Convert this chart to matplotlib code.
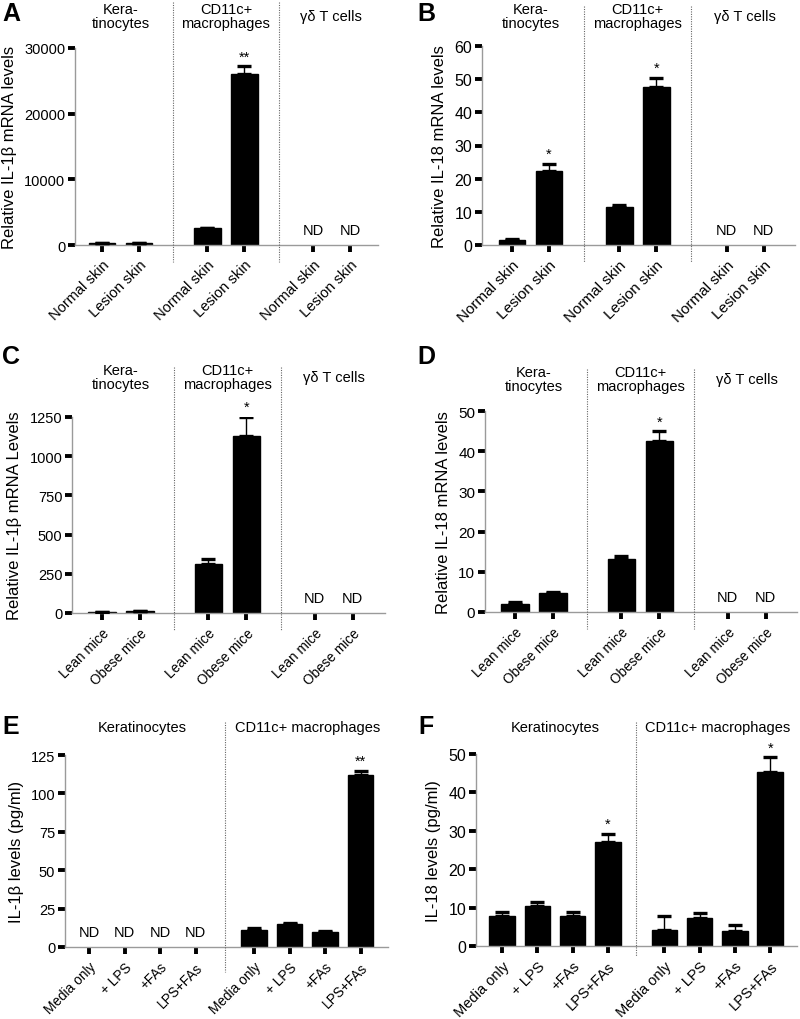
import matplotlib.pyplot as plt
import matplotlib.transforms as mtransforms
from matplotlib.lines import Line2D
import numpy as np

plt.rcParams['font.family'] = ['Liberation Sans', 'DejaVu Sans']

W, H = 800, 1020

# category labels
skin_labels = ['Normal skin', 'Lesion skin']
mice_labels = ['Lean mice', 'Obese mice']
treat_labels = ['Media only', '+ LPS', '+FAs', 'LPS+FAs']
cells_3 = ['Kera-\ntinocytes', 'CD11c+\nmacrophages', 'γδ T cells']
cells_2 = ['Keratinocytes', 'CD11c+ macrophages']

# A: IL-1b mRNA, skin (None = ND)
a_mean = [250, 250, 2600, 26000, None, None]
a_err = [0, 0, 60, 1200, 0, 0]
a_sig = ['', '', '', '**', '', '']

# B: IL-18 mRNA, skin
b_mean = [1.5, 22.3, 11.5, 47.5, None, None]
b_err = [0.2, 2.2, 0.7, 2.9, 0, 0]
b_sig = ['', '*', '', '*', '', '']

# C: IL-1b mRNA, mice
c_mean = [8, 12, 310, 1130, None, None]
c_err = [0, 0, 35, 120, 0, 0]
c_sig = ['', '', '', '*', '', '']

# D: IL-18 mRNA, mice
d_mean = [1.9, 4.7, 13.3, 42.5, None, None]
d_err = [0.5, 0.3, 0.6, 2.5, 0, 0]
d_sig = ['', '', '', '*', '', '']

# E: IL-1b protein
e_mean = [None, None, None, None, 11.2, 15.2, 9.6, 112]
e_err = [0, 0, 0, 0, 1.0, 0.6, 1.0, 2.8]
e_sig = ['', '', '', '', '', '', '', '**']

# F: IL-18 protein
f_mean = [7.7, 10.5, 7.7, 27.2, 4.2, 7.4, 3.8, 45.3]
f_err = [1.2, 1.0, 1.2, 2.0, 3.5, 1.2, 1.7, 3.9]
f_sig = ['', '', '', '*', '', '', '', '*']


def fy(py):
    return 1 - py / H


def panel(fig, box, means, errs, sig, labels, groups, step, xlim, ylim,
          yticks, ylabel, head_y, div_y, tick_fs=10.5, ytick_fs=10.5):
    left, right, bottom, top = box
    ax = fig.add_axes([left / W, fy(bottom), (right - left) / W, (bottom - top) / H])
    n = len(labels)
    pos = [g * step + i for g in range(len(groups)) for i in range(n)]
    # only draw bars that were detected
    bx = [x for x, m in zip(pos, means) if m is not None]
    bv = [m for m in means if m is not None]
    be = [e for e, m in zip(errs, means) if m is not None]
    ax.bar(bx, bv, width=0.72, color='black', edgecolor='black', linewidth=1, zorder=2)
    ax.errorbar(bx, bv, yerr=[np.zeros(len(bv)), be], fmt='none', ecolor='black',
                elinewidth=1, capsize=4.8, capthick=2.4, zorder=3)
    for x, m, e, s in zip(pos, means, errs, sig):
        if m is None:
            ax.annotate('ND', (x, 0), xytext=(0, 6), textcoords='offset points',
                        ha='center', va='bottom', fontsize=10.5)
        elif s:
            ax.annotate(s, (x, m + e), xytext=(0, 2), textcoords='offset points',
                        ha='center', va='bottom', fontsize=10.5)
    ax.set_xlim(*xlim)
    ax.set_ylim(*ylim)
    ax.set_yticks(yticks)
    ax.set_xticks(pos)
    ax.set_xticklabels(labels * len(groups), rotation=45, ha='right',
                       rotation_mode='anchor', fontsize=tick_fs)
    ax.tick_params(axis='both', direction='out', length=5, width=2.8, color='black')
    ax.tick_params(axis='y', labelsize=ytick_fs, pad=2)
    ax.tick_params(axis='x', pad=4)
    for sp in ['top', 'right']:
        ax.spines[sp].set_visible(False)
    for sp in ['left', 'bottom']:
        ax.spines[sp].set_color('#9a9a9a')
        ax.spines[sp].set_linewidth(1)
    ax.set_ylabel(ylabel, fontsize=12, labelpad=5)

    trans = mtransforms.blended_transform_factory(ax.transData, fig.transFigure)
    for g, name in enumerate(groups):
        gx = g * step + (n - 1) / 2
        fig.text(gx, fy(head_y), name, transform=trans, ha='center', va='center',
                 fontsize=10.5, linespacing=1.0)
        if g > 0:
            dx = g * step - (step - n + 1) / 2
            fig.add_artist(Line2D([dx, dx], [fy(div_y[0]), fy(div_y[1])], transform=trans,
                                  linestyle=(0, (1, 1.2)), color='#666666', linewidth=0.8))
    return ax


fig = plt.figure(figsize=(8, 10.2), dpi=100)

panel(fig, (75, 378, 246, 49), a_mean, a_err, a_sig, skin_labels, cells_3, 2.85,
      (-0.73, 7.46), (0, 30000), [0, 10000, 20000, 30000],
      'Relative IL-1β mRNA levels', 17, (3, 263))
panel(fig, (482, 795, 246, 47), b_mean, b_err, b_sig, skin_labels, cells_3, 2.9,
      (-0.81, 7.65), (0, 60), range(0, 61, 10),
      'Relative IL-18 mRNA levels', 17, (7, 263), tick_fs=11, ytick_fs=11.5)
panel(fig, (72, 385, 614, 418), c_mean, c_err, c_sig, mice_labels, cells_3, 2.8,
      (-0.79, 7.45), (0, 1250), range(0, 1251, 250),
      'Relative IL-1β mRNA Levels', 378, (368, 632), tick_fs=9.8)
panel(fig, (485, 797, 613, 412), d_mean, d_err, d_sig, mice_labels, cells_3, 2.8,
      (-0.79, 7.42), (0, 50), range(0, 51, 10),
      'Relative IL-18 mRNA levels', 380, (370, 630), tick_fs=9.8, ytick_fs=11)
panel(fig, (65, 388, 948, 756), e_mean, e_err, e_sig, treat_labels, cells_2, 4.65,
      (-0.68, 8.42), (0, 125), range(0, 126, 25),
      'IL-1β levels (pg/ml)', 728, (723, 973), tick_fs=9.8)
panel(fig, (476, 797, 947, 755), f_mean, f_err, f_sig, treat_labels, cells_2, 4.6,
      (-0.74, 8.36), (0, 50), range(0, 51, 10),
      'IL-18 levels (pg/ml)', 728, (723, 957), tick_fs=10.5, ytick_fs=11.5)

# panel letters
for letter, px, py in [('A', 11, 14), ('B', 426, 14), ('C', 11, 357), ('D', 426, 357),
                       ('E', 11, 727), ('F', 426, 727)]:
    fig.text(px / W, fy(py), letter, fontsize=18, fontweight='bold', ha='center', va='center')

plt.savefig('out.png', dpi=100)
